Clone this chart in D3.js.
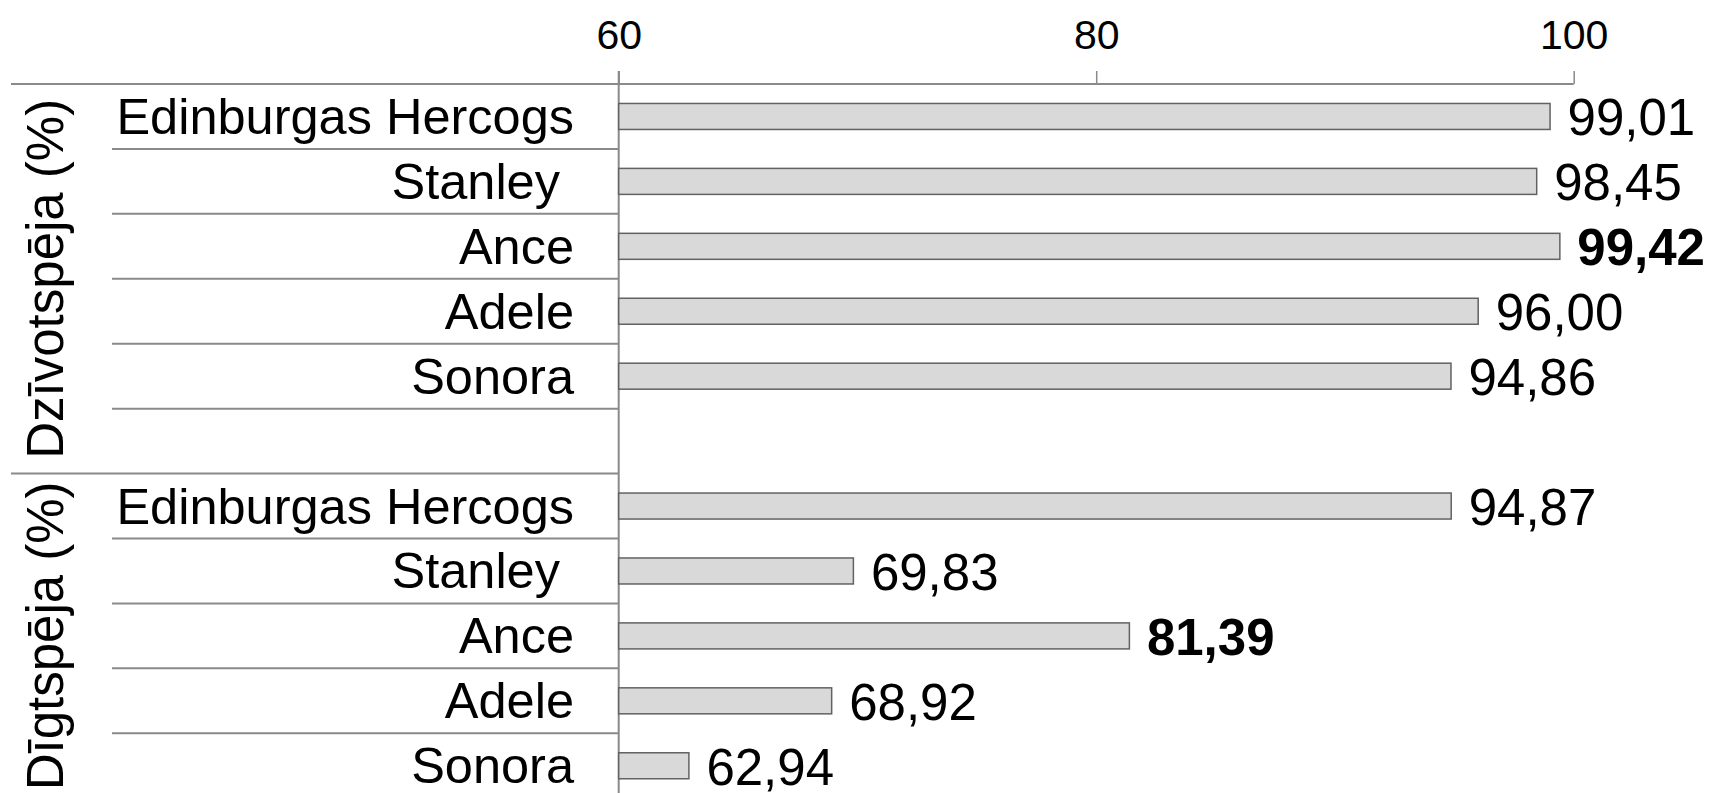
<!DOCTYPE html>
<html><head><meta charset="utf-8">
<script src="https://cdn.jsdelivr.net/npm/d3@7"></script>
<style>
html,body{margin:0;padding:0;background:#fff;overflow:hidden;}
text{font-family:"Liberation Sans",Arial,sans-serif;fill:#000;white-space:pre;}
</style></head>
<body><svg id="c" width="1711" height="793"></svg>
<script>
const groups = ["Dzīvotspēja (%)", "Dīgtspēja (%)"];
const categories = ["Edinburgas Hercogs", "Stanley ", "Ance", "Adele", "Sonora"];
const viability = [99.01, 98.45, 99.42, 96.00, 94.86];
const germination = [94.87, 69.83, 81.39, 68.92, 62.94];
const highlighted = ["Ance"];
const tickValues = [60, 80, 100];

(function(){
const svg = d3.select("#c");
const x = d3.scaleLinear().domain([60, 100]).range([618.7, 1573.7]);
const rowH = 64.93, y0top = 84;
const rows = [];
categories.forEach((c,i)=>rows.push({g:0,cat:c,v:viability[i]}));
rows.push({g:0,cat:null,v:null});
categories.forEach((c,i)=>rows.push({g:1,cat:c,v:germination[i]}));
const y = d3.scaleBand().domain(d3.range(rows.length)).range([y0top, y0top+rowH*rows.length]).padding(0);
const fmt = v => d3.format(".2f")(v).replace(".", ",");
const lineColor = "#8a8a8a";

const axis = d3.axisTop(x).tickValues(tickValues).tickSize(13).tickSizeOuter(0).tickFormat(d3.format("d"));
const ag = svg.append("g").attr("transform",`translate(0,${y0top})`).call(axis);
ag.select(".domain").remove();
ag.selectAll(".tick line").attr("stroke",lineColor).attr("stroke-width",1.5);
ag.selectAll(".tick text").attr("y",-35).attr("dy",0).style("font-size","41px").attr("fill","#000")
  .style("font-family","'Liberation Sans',Arial,sans-serif");
svg.append("line").attr("x1",11).attr("x2",x(100)).attr("y1",y0top).attr("y2",y0top).attr("stroke",lineColor).attr("stroke-width",2);
svg.append("line").attr("x1",x(60)).attr("x2",x(60)).attr("y1",y0top-13).attr("y2",800).attr("stroke",lineColor).attr("stroke-width",2);

rows.forEach((r,i)=>{
  const yy = y(i)+y.bandwidth();
  const groupEnd = (i+1<rows.length && rows[i+1].g!==r.g);
  svg.append("line").attr("x1",groupEnd?11:112).attr("x2",x(60)).attr("y1",yy).attr("y2",yy).attr("stroke",lineColor).attr("stroke-width",2);
});

const barH = 26;
rows.forEach((r,i)=>{
  if(r.v==null) return;
  const cy = y(i)+y.bandwidth()/2;
  svg.append("rect").attr("x",x(60)).attr("y",cy-barH/2).attr("width",x(r.v)-x(60)).attr("height",barH)
    .attr("fill","#d9d9d9").attr("stroke","#626262").attr("stroke-width",1.5);
  svg.append("text").attr("x",574).attr("y",cy+17.5).attr("text-anchor","end").style("font-size","50.5px").text(r.cat);
  const bold = highlighted.includes(r.cat.trim());
  svg.append("text").attr("x",x(r.v)+17.5).attr("y",cy+19).style("font-size","51px")
    .style("font-weight",bold?"bold":"normal").text(fmt(r.v));
});

groups.forEach((g,gi)=>{
  const idx = rows.map((r,i)=>i).filter(i=>rows[i].g===gi);
  const ya = y(idx[0]), yb = y(idx[idx.length-1])+y.bandwidth();
  svg.append("text").attr("transform",`translate(${63},${(ya+yb)/2}) rotate(-90)`)
    .attr("text-anchor","middle").style("font-size","51px").text(g);
});
})();
</script></body></html>
